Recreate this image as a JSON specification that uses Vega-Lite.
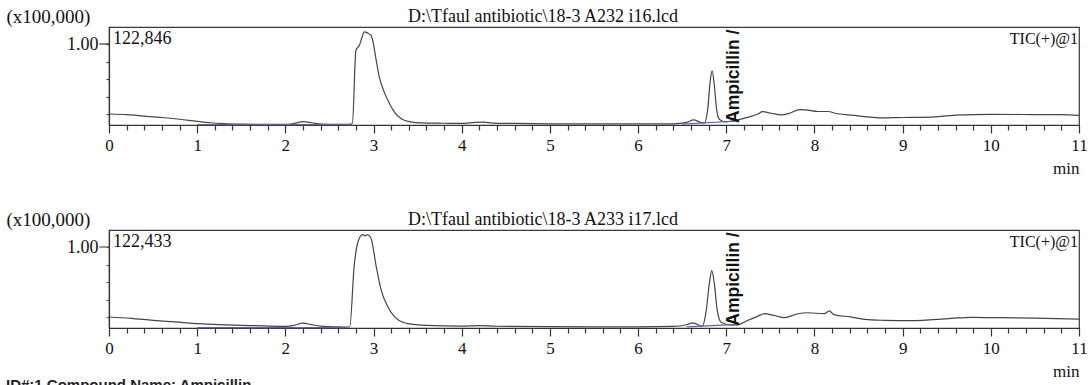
{
  "$schema": "https://vega.github.io/schema/vega-lite/v6.json",
  "background": "white",
  "padding": {"left": 5, "top": 6, "right": 6, "bottom": 0},
  "bounds": "flush",
  "spacing": 105,
  "config": {
    "view": {"stroke": "#3a3a3a", "strokeWidth": 1.2},
    "font": "Liberation Serif",
    "axis": {"grid": false}
  },
  "datasets": {
    "trace": [
      {"run": "i16", "t": 0.0, "v": 0.0},
      {"run": "i16", "t": 0.2, "v": -0.01},
      {"run": "i16", "t": 0.4, "v": -0.03},
      {"run": "i16", "t": 0.6, "v": -0.05},
      {"run": "i16", "t": 0.8, "v": -0.075},
      {"run": "i16", "t": 1.0, "v": -0.105},
      {"run": "i16", "t": 1.15, "v": -0.125},
      {"run": "i16", "t": 1.3, "v": -0.138},
      {"run": "i16", "t": 1.5, "v": -0.145},
      {"run": "i16", "t": 1.8, "v": -0.148},
      {"run": "i16", "t": 2.0, "v": -0.148},
      {"run": "i16", "t": 2.1, "v": -0.135},
      {"run": "i16", "t": 2.2, "v": -0.11},
      {"run": "i16", "t": 2.3, "v": -0.125},
      {"run": "i16", "t": 2.4, "v": -0.143},
      {"run": "i16", "t": 2.6, "v": -0.146},
      {"run": "i16", "t": 2.72, "v": -0.146},
      {"run": "i16", "t": 2.76, "v": -0.136},
      {"run": "i16", "t": 2.8, "v": 0.911},
      {"run": "i16", "t": 2.84, "v": 0.983},
      {"run": "i16", "t": 2.87, "v": 1.1},
      {"run": "i16", "t": 2.895, "v": 1.173},
      {"run": "i16", "t": 2.93, "v": 1.159},
      {"run": "i16", "t": 2.97, "v": 1.126},
      {"run": "i16", "t": 2.99, "v": 1.054},
      {"run": "i16", "t": 3.03, "v": 0.769},
      {"run": "i16", "t": 3.065, "v": 0.53},
      {"run": "i16", "t": 3.12, "v": 0.316},
      {"run": "i16", "t": 3.18, "v": 0.15},
      {"run": "i16", "t": 3.235, "v": 0.03},
      {"run": "i16", "t": 3.31, "v": -0.064},
      {"run": "i16", "t": 3.42, "v": -0.113},
      {"run": "i16", "t": 3.54, "v": -0.127},
      {"run": "i16", "t": 3.8, "v": -0.132},
      {"run": "i16", "t": 4.0, "v": -0.135},
      {"run": "i16", "t": 4.15, "v": -0.12},
      {"run": "i16", "t": 4.25, "v": -0.115},
      {"run": "i16", "t": 4.35, "v": -0.13},
      {"run": "i16", "t": 4.6, "v": -0.135},
      {"run": "i16", "t": 5.0, "v": -0.14},
      {"run": "i16", "t": 5.5, "v": -0.142},
      {"run": "i16", "t": 6.0, "v": -0.142},
      {"run": "i16", "t": 6.4, "v": -0.14},
      {"run": "i16", "t": 6.55, "v": -0.12},
      {"run": "i16", "t": 6.63, "v": -0.085},
      {"run": "i16", "t": 6.7, "v": -0.115},
      {"run": "i16", "t": 6.75, "v": -0.131},
      {"run": "i16", "t": 6.79, "v": 0.07},
      {"run": "i16", "t": 6.82, "v": 0.499},
      {"run": "i16", "t": 6.84, "v": 0.617},
      {"run": "i16", "t": 6.865, "v": 0.403},
      {"run": "i16", "t": 6.89, "v": 0.07},
      {"run": "i16", "t": 6.92, "v": -0.073},
      {"run": "i16", "t": 6.96, "v": -0.105},
      {"run": "i16", "t": 7.0, "v": -0.111},
      {"run": "i16", "t": 7.13, "v": -0.083},
      {"run": "i16", "t": 7.24, "v": -0.047},
      {"run": "i16", "t": 7.36, "v": 0.0},
      {"run": "i16", "t": 7.41, "v": 0.033},
      {"run": "i16", "t": 7.51, "v": 0.011},
      {"run": "i16", "t": 7.62, "v": -0.013},
      {"run": "i16", "t": 7.72, "v": 0.011},
      {"run": "i16", "t": 7.83, "v": 0.063},
      {"run": "i16", "t": 7.9, "v": 0.059},
      {"run": "i16", "t": 8.04, "v": 0.036},
      {"run": "i16", "t": 8.15, "v": 0.036},
      {"run": "i16", "t": 8.26, "v": 0.004},
      {"run": "i16", "t": 8.45, "v": -0.02},
      {"run": "i16", "t": 8.6, "v": -0.042},
      {"run": "i16", "t": 8.75, "v": -0.056},
      {"run": "i16", "t": 9.0, "v": -0.05},
      {"run": "i16", "t": 9.3, "v": -0.045},
      {"run": "i16", "t": 9.6, "v": -0.015},
      {"run": "i16", "t": 10.0, "v": -0.005},
      {"run": "i16", "t": 10.5, "v": -0.008},
      {"run": "i16", "t": 10.8, "v": -0.01},
      {"run": "i16", "t": 11.0, "v": -0.02},
      {"run": "i17", "t": 0.0, "v": 0.0},
      {"run": "i17", "t": 0.25, "v": -0.02},
      {"run": "i17", "t": 0.5, "v": -0.047},
      {"run": "i17", "t": 0.75, "v": -0.07},
      {"run": "i17", "t": 1.0, "v": -0.094},
      {"run": "i17", "t": 1.25, "v": -0.11},
      {"run": "i17", "t": 1.5, "v": -0.119},
      {"run": "i17", "t": 1.75, "v": -0.127},
      {"run": "i17", "t": 2.0, "v": -0.133},
      {"run": "i17", "t": 2.1, "v": -0.12},
      {"run": "i17", "t": 2.2, "v": -0.086},
      {"run": "i17", "t": 2.3, "v": -0.11},
      {"run": "i17", "t": 2.4, "v": -0.129},
      {"run": "i17", "t": 2.6, "v": -0.14},
      {"run": "i17", "t": 2.73, "v": -0.143},
      {"run": "i17", "t": 2.78, "v": 0.723},
      {"run": "i17", "t": 2.82, "v": 1.057},
      {"run": "i17", "t": 2.875, "v": 1.176},
      {"run": "i17", "t": 2.905, "v": 1.16},
      {"run": "i17", "t": 2.93, "v": 1.176},
      {"run": "i17", "t": 2.97, "v": 1.129},
      {"run": "i17", "t": 3.03, "v": 0.723},
      {"run": "i17", "t": 3.085, "v": 0.39},
      {"run": "i17", "t": 3.16, "v": 0.151},
      {"run": "i17", "t": 3.235, "v": 0.009},
      {"run": "i17", "t": 3.31, "v": -0.063},
      {"run": "i17", "t": 3.45, "v": -0.105},
      {"run": "i17", "t": 3.6, "v": -0.12},
      {"run": "i17", "t": 4.0, "v": -0.13},
      {"run": "i17", "t": 4.2, "v": -0.122},
      {"run": "i17", "t": 4.4, "v": -0.132},
      {"run": "i17", "t": 5.0, "v": -0.138},
      {"run": "i17", "t": 5.5, "v": -0.14},
      {"run": "i17", "t": 6.0, "v": -0.14},
      {"run": "i17", "t": 6.4, "v": -0.135},
      {"run": "i17", "t": 6.55, "v": -0.11},
      {"run": "i17", "t": 6.62, "v": -0.084},
      {"run": "i17", "t": 6.73, "v": -0.131},
      {"run": "i17", "t": 6.77, "v": 0.069},
      {"run": "i17", "t": 6.81, "v": 0.497},
      {"run": "i17", "t": 6.835, "v": 0.663},
      {"run": "i17", "t": 6.865, "v": 0.473},
      {"run": "i17", "t": 6.895, "v": 0.116},
      {"run": "i17", "t": 6.94, "v": -0.074},
      {"run": "i17", "t": 7.05, "v": -0.111},
      {"run": "i17", "t": 7.13, "v": -0.111},
      {"run": "i17", "t": 7.24, "v": -0.05},
      {"run": "i17", "t": 7.36, "v": 0.013},
      {"run": "i17", "t": 7.43, "v": 0.047},
      {"run": "i17", "t": 7.54, "v": 0.023},
      {"run": "i17", "t": 7.66, "v": -0.01},
      {"run": "i17", "t": 7.81, "v": 0.047},
      {"run": "i17", "t": 7.92, "v": 0.061},
      {"run": "i17", "t": 8.11, "v": 0.047},
      {"run": "i17", "t": 8.17, "v": 0.087},
      {"run": "i17", "t": 8.22, "v": 0.034},
      {"run": "i17", "t": 8.41, "v": 0.001},
      {"run": "i17", "t": 8.57, "v": -0.033},
      {"run": "i17", "t": 8.79, "v": -0.047},
      {"run": "i17", "t": 9.1, "v": -0.053},
      {"run": "i17", "t": 9.55, "v": -0.02},
      {"run": "i17", "t": 9.78, "v": -0.004},
      {"run": "i17", "t": 10.12, "v": -0.009},
      {"run": "i17", "t": 10.49, "v": -0.017},
      {"run": "i17", "t": 11.0, "v": -0.03}
    ],
    "base": [
      {"run": "i16", "seg": "a", "t": 1.0, "v": -0.152},
      {"run": "i16", "seg": "a", "t": 2.75, "v": -0.152},
      {"run": "i16", "seg": "b", "t": 6.5, "v": -0.145},
      {"run": "i16", "seg": "b", "t": 7.13, "v": -0.1},
      {"run": "i17", "seg": "a", "t": 1.0, "v": -0.152},
      {"run": "i17", "seg": "a", "t": 2.7, "v": -0.152},
      {"run": "i17", "seg": "b", "t": 6.55, "v": -0.14},
      {"run": "i17", "seg": "b", "t": 7.13, "v": -0.105}
    ]
  },
  "vconcat": [
    {
      "width": 970,
      "height": 98,
      "layer": [
        {
          "data": {"name": "trace"},
          "transform": [{"filter": "datum.run == 'i16'"}],
          "mark": {"type": "line", "color": "#454545", "strokeWidth": 1.2, "interpolate": "monotone"},
          "encoding": {
            "x": {"field": "t", "type": "quantitative", "scale": {"domain": [0, 11], "nice": false, "zero": false},
              "axis": {"values": [0,0.2,0.4,0.6,0.8,1,1.2,1.4,1.6,1.8,2,2.2,2.4,2.6,2.8,3,3.2,3.4,3.6,3.8,4,4.2,4.4,4.6,4.8,5,5.2,5.4,5.6,5.8,6,6.2,6.4,6.6,6.8,7,7.2,7.4,7.6,7.8,8,8.2,8.4,8.6,8.8,9,9.2,9.4,9.6,9.8,10,10.2,10.4,10.6,10.8,11],
                "tickCount": 200,
                "labelExpr": "abs(datum.value - round(datum.value)) < 0.001 ? '' + round(datum.value) : ''",
                "labelFont": "Liberation Serif", "labelFontSize": 17, "labelColor": "#111", "labelFlush": false, "labelOverlap": false, "labelPadding": 4,
                "tickSize": {"condition": {"test": "abs(datum.value - round(datum.value)) < 0.001", "value": 8}, "value": 5},
                "tickColor": "#333", "tickWidth": 1.2, "domainColor": "#333", "domainWidth": 1.2,
                "title": "min", "titleX": 970, "titleY": 48, "titleAlign": "right", "titleBaseline": "alphabetic", "titleFont": "Liberation Serif", "titleFontSize": 17, "titleFontWeight": "normal", "titleColor": "#111"}},
            "y": {"field": "v", "type": "quantitative", "scale": {"domain": [-0.157, 1.243], "nice": false, "zero": false},
              "axis": {"values": [0, 0.25, 0.5, 0.75, 1],
                "tickCount": 50,
                "labelExpr": "datum.value == 1 ? '1.00' : ''",
                "labelFont": "Liberation Serif", "labelFontSize": 18, "labelColor": "#111", "labelPadding": 8, "labelOverlap": false,
                "tickSize": 3, "tickColor": "#444", "tickWidth": 1.2, "domainColor": "#333", "domainWidth": 1.2,
                "title": "(x100,000)", "titleAngle": 0, "titleAlign": "left", "titleBaseline": "alphabetic", "titleX": -103, "titleY": -5, "titleFont": "Liberation Serif", "titleFontSize": 19, "titleFontWeight": "normal", "titleColor": "#111"}}
          }
        },
        {
          "data": {"name": "base"},
          "transform": [{"filter": "datum.run == 'i16'"}],
          "mark": {"type": "line", "color": "#6060b0", "strokeWidth": 1.2},
          "encoding": {"x": {"field": "t", "type": "quantitative"}, "y": {"field": "v", "type": "quantitative"}, "detail": {"field": "seg"}}
        },
        {
          "data": {"values": [{"label": "1.00"}]},
          "mark": {"type": "rule", "color": "#333", "strokeWidth": 1.2},
          "encoding": {"y": {"datum": 1}, "x": {"datum": -0.11}, "x2": {"datum": 0}}
        },
        {
          "data": {"values": [{"label": "D:\\Tfaul antibiotic\\18-3 A232 i16.lcd"}]},
          "mark": {"type": "text", "align": "left", "baseline": "alphabetic", "dx": 299, "dy": -5, "font": "Liberation Serif", "fontSize": 18, "color": "#111"},
          "encoding": {"x": {"datum": 0}, "y": {"datum": 1.243}, "text": {"field": "label"}}
        },
        {
          "data": {"values": [{"label": "122,846"}]},
          "mark": {"type": "text", "align": "left", "baseline": "alphabetic", "dx": 4, "font": "Liberation Serif", "fontSize": 18, "color": "#111"},
          "encoding": {"x": {"datum": 0}, "y": {"datum": 1}, "text": {"field": "label"}}
        },
        {
          "data": {"values": [{"label": "TIC(+)@1"}]},
          "mark": {"type": "text", "align": "right", "baseline": "alphabetic", "dx": -1, "font": "Liberation Serif", "fontSize": 16, "color": "#111"},
          "encoding": {"x": {"datum": 11}, "y": {"datum": 1}, "text": {"field": "label"}}
        },
        {
          "data": {"values": [{"label": "Ampicillin /"}]},
          "mark": {"type": "text", "align": "left", "baseline": "alphabetic", "angle": 270, "font": "Liberation Sans", "fontWeight": "bold", "fontSize": 17.5, "color": "#111"},
          "encoding": {"x": {"datum": 7.145}, "y": {"datum": -0.128}, "text": {"field": "label"}}
        }
      ]
    },
    {
      "width": 970,
      "height": 98,
      "layer": [
        {
          "data": {"name": "trace"},
          "transform": [{"filter": "datum.run == 'i17'"}],
          "mark": {"type": "line", "color": "#454545", "strokeWidth": 1.2, "interpolate": "monotone"},
          "encoding": {
            "x": {"field": "t", "type": "quantitative", "scale": {"domain": [0, 11], "nice": false, "zero": false},
              "axis": {"values": [0,0.2,0.4,0.6,0.8,1,1.2,1.4,1.6,1.8,2,2.2,2.4,2.6,2.8,3,3.2,3.4,3.6,3.8,4,4.2,4.4,4.6,4.8,5,5.2,5.4,5.6,5.8,6,6.2,6.4,6.6,6.8,7,7.2,7.4,7.6,7.8,8,8.2,8.4,8.6,8.8,9,9.2,9.4,9.6,9.8,10,10.2,10.4,10.6,10.8,11],
                "tickCount": 200,
                "labelExpr": "abs(datum.value - round(datum.value)) < 0.001 ? '' + round(datum.value) : ''",
                "labelFont": "Liberation Serif", "labelFontSize": 17, "labelColor": "#111", "labelFlush": false, "labelOverlap": false, "labelPadding": 4,
                "tickSize": {"condition": {"test": "abs(datum.value - round(datum.value)) < 0.001", "value": 8}, "value": 5},
                "tickColor": "#333", "tickWidth": 1.2, "domainColor": "#333", "domainWidth": 1.2,
                "title": "min", "titleX": 970, "titleY": 48, "titleAlign": "right", "titleBaseline": "alphabetic", "titleFont": "Liberation Serif", "titleFontSize": 17, "titleFontWeight": "normal", "titleColor": "#111"}},
            "y": {"field": "v", "type": "quantitative", "scale": {"domain": [-0.157, 1.243], "nice": false, "zero": false},
              "axis": {"values": [0, 0.25, 0.5, 0.75, 1],
                "tickCount": 50,
                "labelExpr": "datum.value == 1 ? '1.00' : ''",
                "labelFont": "Liberation Serif", "labelFontSize": 18, "labelColor": "#111", "labelPadding": 8, "labelOverlap": false,
                "tickSize": 3, "tickColor": "#5050a8", "tickWidth": 1.2, "domainColor": "#333", "domainWidth": 1.2,
                "title": "(x100,000)", "titleAngle": 0, "titleAlign": "left", "titleBaseline": "alphabetic", "titleX": -103, "titleY": -5, "titleFont": "Liberation Serif", "titleFontSize": 19, "titleFontWeight": "normal", "titleColor": "#111"}}
          }
        },
        {
          "data": {"name": "base"},
          "transform": [{"filter": "datum.run == 'i17'"}],
          "mark": {"type": "line", "color": "#6060b0", "strokeWidth": 1.2},
          "encoding": {"x": {"field": "t", "type": "quantitative"}, "y": {"field": "v", "type": "quantitative"}, "detail": {"field": "seg"}}
        },
        {
          "data": {"values": [{"label": "1.00"}]},
          "mark": {"type": "rule", "color": "#555533", "strokeWidth": 1.2},
          "encoding": {"y": {"datum": 1}, "x": {"datum": -0.11}, "x2": {"datum": 0}}
        },
        {
          "data": {"values": [{"label": "D:\\Tfaul antibiotic\\18-3 A233 i17.lcd"}]},
          "mark": {"type": "text", "align": "left", "baseline": "alphabetic", "dx": 299, "dy": -5, "font": "Liberation Serif", "fontSize": 18, "color": "#111"},
          "encoding": {"x": {"datum": 0}, "y": {"datum": 1.243}, "text": {"field": "label"}}
        },
        {
          "data": {"values": [{"label": "122,433"}]},
          "mark": {"type": "text", "align": "left", "baseline": "alphabetic", "dx": 4, "font": "Liberation Serif", "fontSize": 18, "color": "#111"},
          "encoding": {"x": {"datum": 0}, "y": {"datum": 1}, "text": {"field": "label"}}
        },
        {
          "data": {"values": [{"label": "TIC(+)@1"}]},
          "mark": {"type": "text", "align": "right", "baseline": "alphabetic", "dx": -1, "font": "Liberation Serif", "fontSize": 16, "color": "#111"},
          "encoding": {"x": {"datum": 11}, "y": {"datum": 1}, "text": {"field": "label"}}
        },
        {
          "data": {"values": [{"label": "Ampicillin /"}]},
          "mark": {"type": "text", "align": "left", "baseline": "alphabetic", "angle": 270, "font": "Liberation Sans", "fontWeight": "bold", "fontSize": 17.5, "color": "#111"},
          "encoding": {"x": {"datum": 7.145}, "y": {"datum": -0.124}, "text": {"field": "label"}}
        },
        {
          "data": {"values": [{"label": "ID#:1 Compound Name: Ampicillin"}]},
          "mark": {"type": "text", "align": "left", "baseline": "top", "dx": -103, "font": "Liberation Sans", "fontWeight": "bold", "fontSize": 15, "color": "#222"},
          "encoding": {"x": {"datum": 0}, "y": {"datum": -0.867}, "text": {"field": "label"}}
        }
      ]
    }
  ]
}
